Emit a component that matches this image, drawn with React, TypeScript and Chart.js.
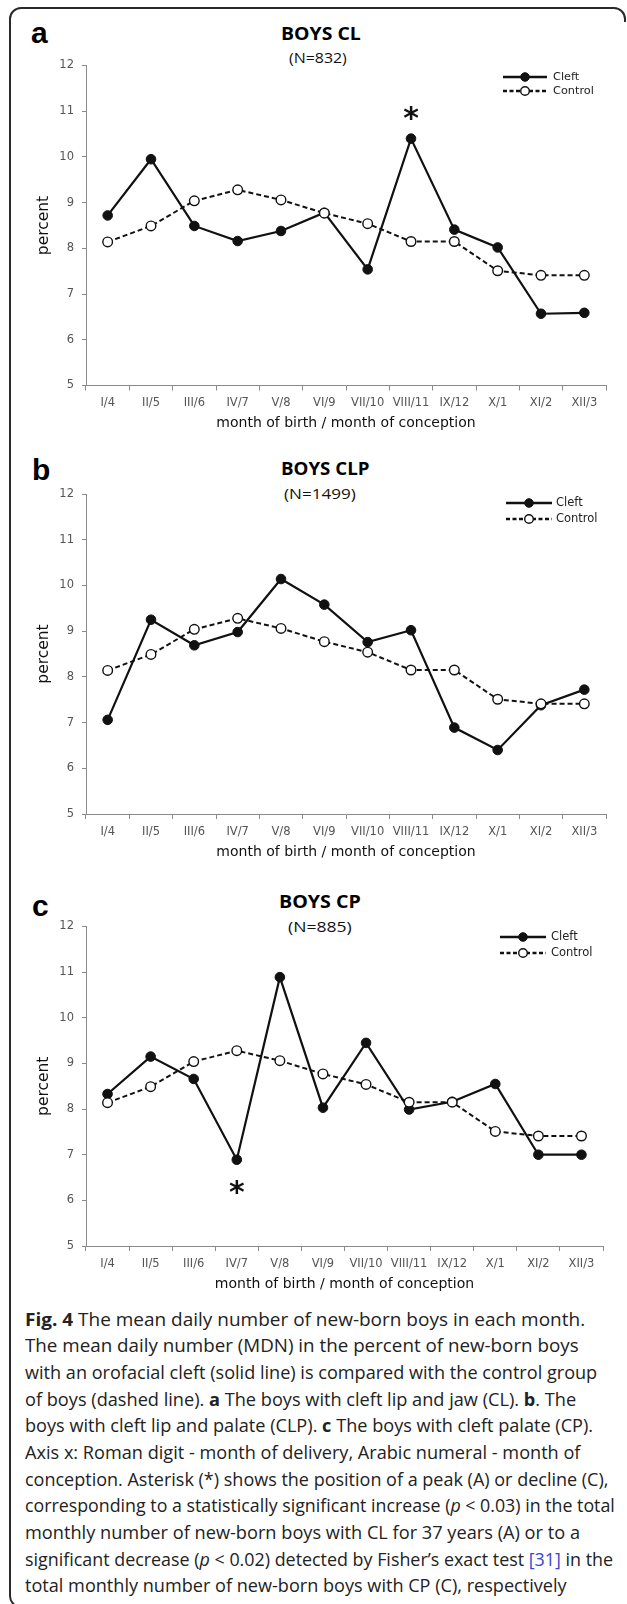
import React, { useEffect, useLayoutEffect, useRef } from 'react';
import { Chart, registerables } from 'chart.js';

Chart.register(...registerables);

// ---------- data ----------
const months = ['I/4', 'II/5', 'III/6', 'IV/7', 'V/8', 'VI/9', 'VII/10', 'VIII/11', 'IX/12', 'X/1', 'XI/2', 'XII/3'];
const controlPct = [8.14, 8.49, 9.04, 9.28, 9.06, 8.77, 8.54, 8.15, 8.15, 7.51, 7.41, 7.41];
const cleftCL = [8.72, 9.95, 8.49, 8.16, 8.38, 8.78, 7.54, 10.4, 8.41, 8.02, 6.57, 6.59];
const cleftCLP = [7.06, 9.25, 8.69, 8.98, 10.14, 9.58, 8.76, 9.02, 6.89, 6.4, 7.38, 7.72];
const cleftCP = [8.33, 9.15, 8.66, 6.89, 10.89, 8.03, 9.45, 7.99, 8.16, 8.55, 7.0, 7.0];
const yMin = 5;
const yMax = 12;
const seriesLabels = ['Cleft', 'Control'];
const panelLetters = ['a', 'b', 'c'];
const panelTitles = ['BOYS CL', 'BOYS CLP', 'BOYS CP'];
const panelCounts = ['(N=832)', '(N=1499)', '(N=885)'];
const xTitle = 'month of birth / month of conception';
const yTitle = 'percent';

const AXIS_GRAY = '#8a8a8a';
const TICK_GRAY = '#555555';
const INK = '#111111';
const X_AXIS_H = 46.4;
const FONT = '"DejaVu Sans", sans-serif';

const legendPlugin = {
  id: 'insideLegend',
  afterDraw(chart: any, _args: any, opts: any) {
    const ctx = chart.ctx as CanvasRenderingContext2D;
    const { x0, x1, textX, rows, offsetY, font } = opts;
    chart.data.datasets.forEach((ds: any, i: number) => {
      const y = rows[i] - offsetY;
      ctx.save();
      ctx.strokeStyle = ds.borderColor;
      ctx.lineWidth = ds.borderWidth + 0.3;
      ctx.setLineDash(ds.borderDash ? [4, 2.5] : []);
      ctx.beginPath();
      ctx.moveTo(x0, y);
      ctx.lineTo(x1, y);
      ctx.stroke();
      ctx.setLineDash([]);
      ctx.beginPath();
      ctx.arc((x0 + x1) / 2, y, ds.pointRadius - 0.5, 0, Math.PI * 2);
      ctx.fillStyle = ds.pointBackgroundColor;
      ctx.fill();
      ctx.lineWidth = ds.pointBorderWidth;
      ctx.strokeStyle = ds.pointBorderColor;
      ctx.stroke();
      ctx.fillStyle = '#222';
      ctx.font = font;
      ctx.textBaseline = 'middle';
      ctx.textAlign = 'left';
      ctx.fillText(ds.label, textX, y);
      ctx.restore();
    });
  },
};

const starPlugin = {
  id: 'star',
  afterDatasetsDraw(chart: any, _args: any, opts: any) {
    if (!opts || opts.index === undefined || opts.index < 0) return;
    const meta = chart.getDatasetMeta(opts.datasetIndex);
    const pt = meta.data[opts.index];
    if (!pt) return;
    const ctx = chart.ctx as CanvasRenderingContext2D;
    const size = 30;
    ctx.save();
    ctx.font = `bold ${size}px ${FONT}`;
    ctx.fillStyle = INK;
    ctx.textAlign = 'center';
    ctx.textBaseline = 'alphabetic';
    ctx.fillText('*', pt.x, pt.y + opts.dy + 0.555 * size);
    ctx.restore();
  },
};

type PanelProps = {
  cleft: number[];
  plotTop: number;
  plotBottom: number;
  plotRight: number;
  legend: { x0: number; x1: number; textX: number; rows: number[]; size: number };
  star: { index: number; dy: number };
};

function LinePanel({ cleft, plotTop, plotBottom, plotRight, legend, star }: PanelProps) {
  const ref = useRef<HTMLCanvasElement>(null);
  const canvasTop = Math.floor(plotTop) - 20;
  const padTop = plotTop - canvasTop;
  const H = Math.ceil(plotBottom - canvasTop + X_AXIS_H + 2);
  const padBottom = H - X_AXIS_H - (plotBottom - canvasTop);

  useEffect(() => {
    if (!ref.current) return;
    const chart = new Chart(ref.current, {
      type: 'line',
      data: {
        labels: months,
        datasets: [
          {
            label: seriesLabels[0],
            data: cleft,
            borderColor: INK,
            borderWidth: 2.2,
            pointRadius: 4.8,
            pointBackgroundColor: INK,
            pointBorderColor: INK,
            pointBorderWidth: 1,
            tension: 0,
            order: 1,
          },
          {
            label: seriesLabels[1],
            data: controlPct,
            borderColor: INK,
            borderWidth: 2,
            borderDash: [5, 3],
            pointRadius: 4.8,
            pointBackgroundColor: '#ffffff',
            pointBorderColor: INK,
            pointBorderWidth: 1.4,
            tension: 0,
            order: 0,
          },
        ],
      },
      options: {
        responsive: false,
        animation: false,
        devicePixelRatio: 1,
        events: [],
        layout: { padding: { top: padTop, bottom: padBottom, left: 0, right: 627 - plotRight } },
        plugins: {
          legend: { display: false },
          tooltip: { enabled: false },
          title: { display: false },
          insideLegend: {
            x0: legend.x0,
            x1: legend.x1,
            textX: legend.textX,
            rows: legend.rows,
            offsetY: canvasTop,
            font: `${legend.size}px ${FONT}`,
          },
          star: { index: star.index, datasetIndex: 0, dy: star.dy },
        } as any,
        scales: {
          x: {
            type: 'category',
            offset: true,
            grid: { offset: true, drawOnChartArea: false, drawTicks: true, tickLength: 5, color: AXIS_GRAY, lineWidth: 1 },
            border: { display: true, color: AXIS_GRAY, width: 1 },
            ticks: { font: { family: FONT, size: 11.5 }, color: TICK_GRAY, padding: 6, maxRotation: 0, autoSkip: false },
            title: { display: true, text: xTitle, font: { family: FONT, size: 14 }, color: '#111', padding: { top: 0, bottom: 0 } },
            afterFit: (s: any) => {
              s.height = X_AXIS_H;
            },
          },
          y: {
            min: yMin,
            max: yMax,
            grid: { drawOnChartArea: false, drawTicks: true, tickLength: 4, color: AXIS_GRAY, lineWidth: 1 },
            border: { display: true, color: AXIS_GRAY, width: 1 },
            ticks: { stepSize: 1, font: { family: FONT, size: 11.5 }, color: TICK_GRAY, padding: 8 },
            title: { display: true, text: yTitle, font: { family: FONT, size: 15.5 }, color: '#111', padding: { top: 34.2, bottom: 0 } },
            afterFit: (s: any) => {
              s.width = 86;
            },
          },
        },
      },
      plugins: [legendPlugin as any, starPlugin as any],
    });
    return () => chart.destroy();
  }, []);

  return <canvas ref={ref} width={627} height={H} style={{ position: 'absolute', left: 0, top: canvasTop, width: 627, height: H }} />;
}

function FitText({ x, cx, top, width, style, children }: any) {
  const ref = useRef<HTMLSpanElement>(null);
  const fit = () => {
    const el = ref.current;
    if (!el) return;
    el.style.transform = 'none';
    const w = el.offsetWidth;
    if (w > 0) el.style.transform = `scaleX(${width / w})`;
  };
  useLayoutEffect(() => {
    fit();
    (document as any).fonts?.ready?.then(fit);
  });
  const left = cx !== undefined ? cx - width / 2 : x;
  return (
    <span
      ref={ref}
      style={{
        position: 'absolute',
        left,
        top,
        whiteSpace: 'nowrap',
        transformOrigin: '0 0',
        lineHeight: 1,
        display: 'inline-block',
        ...style,
      }}
    >
      {children}
    </span>
  );
}

const panels = [
  {
    cleft: cleftCL,
    plotTop: 65.5,
    plotBottom: 385.5,
    plotRight: 606,
    legend: { x0: 503, x1: 547, textX: 553, rows: [77, 91], size: 11.3 },
    star: { index: 7, dy: -27 },
    letter: { cx: 40, cy: 36 },
    title: { cx: 321, cy: 34, w: 80 },
    sub: { cx: 318, cy: 59, w: 58 },
  },
  {
    cleft: cleftCLP,
    plotTop: 494,
    plotBottom: 814,
    plotRight: 606,
    legend: { x0: 506, x1: 552, textX: 556, rows: [503, 519], size: 11.5 },
    star: { index: -1, dy: 0 },
    letter: { cx: 41, cy: 473 },
    title: { cx: 325, cy: 469, w: 88 },
    sub: { cx: 320, cy: 495, w: 72 },
  },
  {
    cleft: cleftCP,
    plotTop: 926.5,
    plotBottom: 1246,
    plotRight: 603,
    legend: { x0: 500, x1: 546, textX: 551, rows: [937, 953], size: 11.5 },
    star: { index: 3, dy: 25.5 },
    letter: { cx: 41, cy: 909 },
    title: { cx: 320, cy: 902, w: 82 },
    sub: { cx: 320, cy: 928, w: 64 },
  },
];

const B = (t: string) => <b style={{ fontWeight: 700 }}>{t}</b>;
const I = (t: string) => <i>{t}</i>;

const captionLines: { node: React.ReactNode; right: number }[] = [
  { node: <>{B('Fig. 4')} The mean daily number of new-born boys in each month.</>, right: 585 },
  { node: <>The mean daily number (MDN) in the percent of new-born boys</>, right: 579 },
  { node: <>with an orofacial cleft (solid line) is compared with the control group</>, right: 597 },
  { node: <>of boys (dashed line). {B('a')} The boys with cleft lip and jaw (CL). {B('b')}. The</>, right: 576 },
  { node: <>boys with cleft lip and palate (CLP). {B('c')} The boys with cleft palate (CP).</>, right: 593 },
  { node: <>Axis x: Roman digit - month of delivery, Arabic numeral - month of</>, right: 580 },
  { node: <>conception. Asterisk (*) shows the position of a peak (A) or decline (C),</>, right: 608 },
  { node: <>corresponding to a statistically significant increase ({I('p')} &lt; 0.03) in the total</>, right: 615 },
  { node: <>monthly number of new-born boys with CL for 37 years (A) or to a</>, right: 580 },
  {
    node: (
      <>
        significant decrease ({I('p')} &lt; 0.02) detected by Fisher’s exact test <span style={{ color: '#3a45d0' }}>[31]</span> in the
      </>
    ),
    right: 613,
  },
  { node: <>total monthly number of new-born boys with CP (C), respectively</>, right: 567 },
];

export default function App() {
  const capX = 25;
  const capY0 = 1320;
  const capStep = 26.67;
  const capSize = 18;
  return (
    <div style={{ position: 'relative', width: 627, height: 1604, overflow: 'hidden', background: '#fff' }}>
      <style>{'html,body{margin:0;padding:0;overflow:hidden;background:#fff}'}</style>
      <div
        style={{
          position: 'absolute',
          left: 9,
          top: 7,
          width: 617,
          height: 1601,
          boxSizing: 'border-box',
          border: '2px solid #2a2a2a',
          borderRadius: 12,
        }}
      />
      <div style={{ position: 'absolute', left: 619, top: 22, width: 8, height: 1590, background: '#fff' }} />
      {panels.map((p, i) => (
        <React.Fragment key={i}>
          <span
            style={{
              position: 'absolute',
              left: p.letter.cx - 9,
              top: p.letter.cy - 0.586 * 30,
              fontFamily: '"Liberation Sans", Arial, sans-serif',
              fontWeight: 700,
              fontSize: 30,
              lineHeight: 1,
              color: '#000',
            }}
          >
            {panelLetters[i]}
          </span>
          <FitText
            cx={p.title.cx}
            top={p.title.cy - 0.531 * 17}
            width={p.title.w}
            style={{ fontFamily: '"Open Sans", sans-serif', fontWeight: 700, fontSize: 17, color: '#000' }}
          >
            {panelTitles[i]}
          </FitText>
          <FitText
            cx={p.sub.cx}
            top={p.sub.cy - 0.56 * 14}
            width={p.sub.w}
            style={{ fontFamily: '"Open Sans", sans-serif', fontSize: 14, color: '#111' }}
          >
            {panelCounts[i]}
          </FitText>
          <LinePanel
            cleft={p.cleft}
            plotTop={p.plotTop}
            plotBottom={p.plotBottom}
            plotRight={p.plotRight}
            legend={p.legend}
            star={p.star}
          />
        </React.Fragment>
      ))}
      {captionLines.map((l, i) => (
        <FitText
          key={i}
          x={capX}
          top={capY0 + i * capStep - 0.58 * capSize}
          width={l.right - capX}
          style={{ fontFamily: '"Open Sans", sans-serif', fontSize: capSize, color: '#222' }}
        >
          {l.node}
        </FitText>
      ))}
    </div>
  );
}
